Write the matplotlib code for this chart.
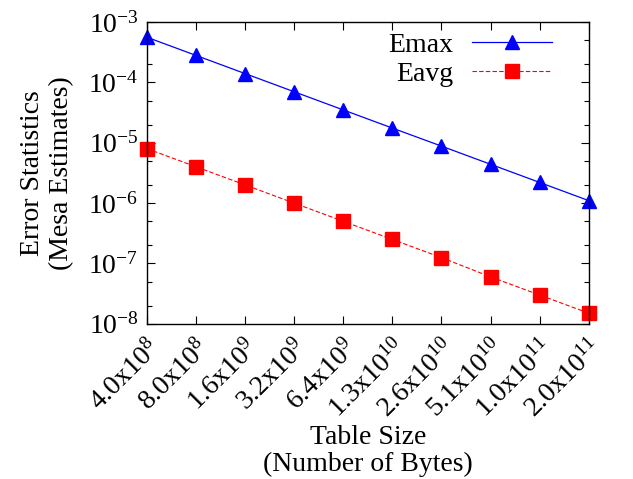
import matplotlib
matplotlib.use("Agg")
import matplotlib.pyplot as plt
from matplotlib.ticker import LogLocator, FixedLocator

# table sizes (categorical x positions) and error stats
size_labels = ["4.0x10^{8}", "8.0x10^{8}", "1.6x10^{9}", "3.2x10^{9}", "6.4x10^{9}",
               "1.3x10^{10}", "2.6x10^{10}", "5.1x10^{10}", "1.0x10^{11}", "2.0x10^{11}"]
emax = [5.6e-4, 2.8e-4, 1.4e-4, 7.0e-5, 3.5e-5, 1.75e-5, 8.8e-6, 4.4e-6, 2.2e-6, 1.1e-6]
eavg = [8.0e-6, 4.0e-6, 2.0e-6, 1.0e-6, 5.0e-7, 2.5e-7, 1.25e-7, 6.0e-8, 3.0e-8, 1.5e-8]

plt.rcParams["font.family"] = ["Liberation Serif", "DejaVu Serif"]
plt.rcParams["mathtext.fontset"] = "custom"
plt.rcParams["mathtext.rm"] = "Liberation Serif"

fs = 20
fig = plt.figure(figsize=(6.33, 4.79), dpi=100)
ax = fig.add_axes([0.232, 0.324, 0.698, 0.630])

xs = list(range(len(size_labels)))
ax.plot(xs, emax, color="#0000ff", lw=0.9, marker="^", ms=10, clip_on=False, label="Emax")
ax.plot(xs, eavg, color="#ff0000", lw=0.8, ls=(0, (4, 2)), marker="s", ms=10,
        clip_on=False, label="Eavg")

ax.set_yscale("log")
ax.set_ylim(1e-8, 1e-3)
ax.set_xlim(0, len(xs) - 1)
ax.yaxis.set_minor_locator(LogLocator(base=10, subs=(2.0, 5.0), numticks=10))
ax.set_yticks([10.0 ** e for e in range(-8, -2)])
ax.set_yticklabels([r"$\mathregular{10^{%d}}$" % e for e in range(-8, -2)])
ax.yaxis.set_minor_formatter(plt.NullFormatter())

ax.xaxis.set_major_locator(FixedLocator(xs))
ax.set_xticklabels([r"$\mathregular{%s}$" % s for s in size_labels],
                   rotation=45, ha="right", rotation_mode="anchor")

ax.tick_params(which="both", direction="in", top=True, right=True, labelsize=fs)
ax.tick_params(which="major", length=6, width=0.8)
ax.tick_params(which="minor", length=3.5, width=0.8)
ax.tick_params(axis="x", pad=8)
ax.tick_params(axis="y", pad=6)
for s in ax.spines.values():
    s.set_linewidth(1.0)

ax.set_xlabel("Table Size\n(Number of Bytes)", fontsize=fs, labelpad=2, linespacing=1.1)
ax.set_ylabel("Error Statistics\n(Mesa Estimates)", fontsize=fs, labelpad=10, linespacing=1.2)

ax.legend(loc="upper right", markerfirst=False, frameon=False, fontsize=fs,
          handlelength=2.9, borderaxespad=0.2, labelspacing=0.12, handletextpad=0.65,
          bbox_to_anchor=(0.955, 1.02))

fig.savefig("out.png", dpi=100)
